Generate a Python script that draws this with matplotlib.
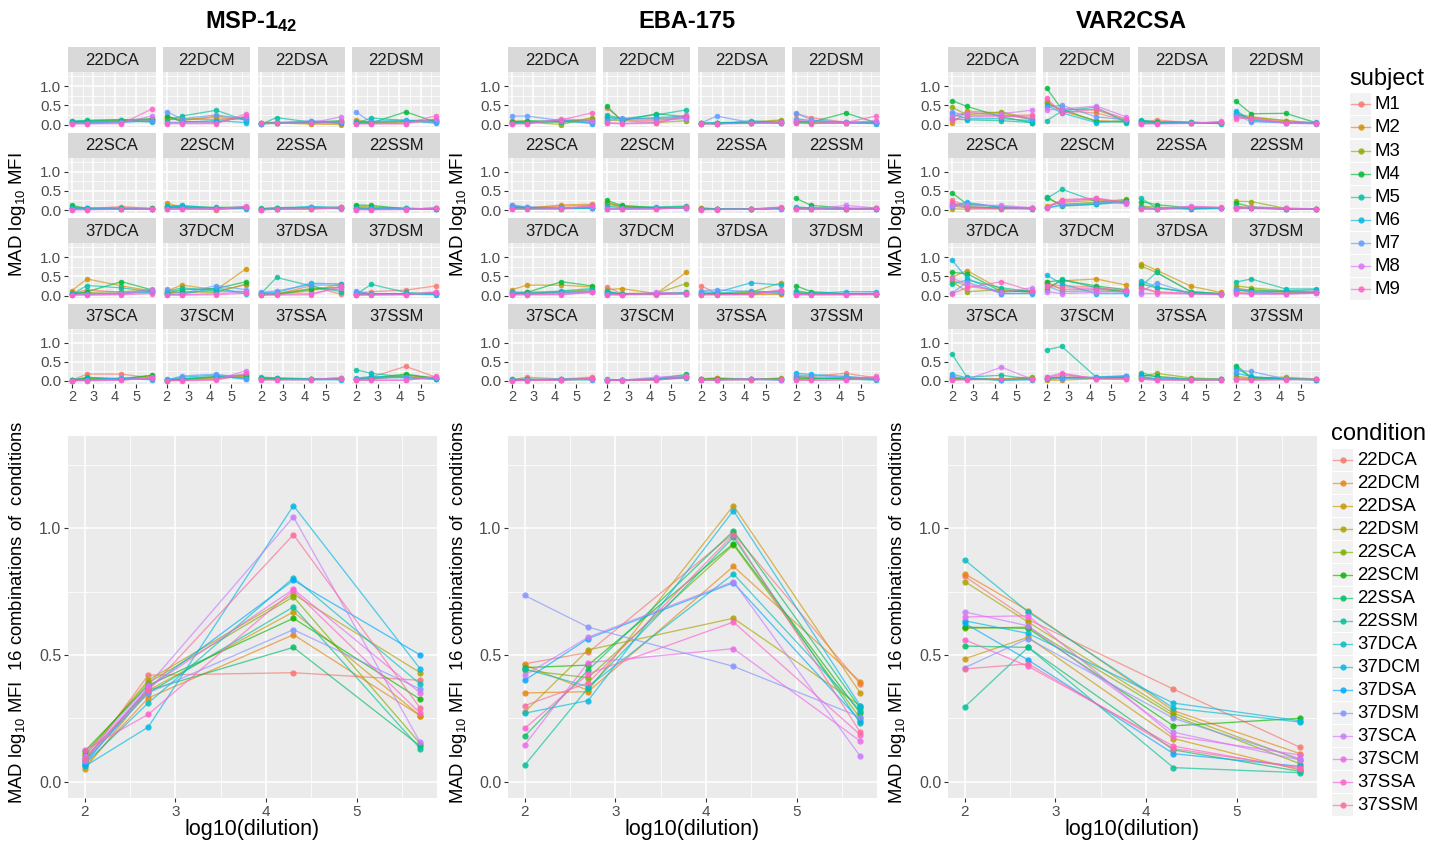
import numpy as np
import matplotlib
matplotlib.use("Agg")
import matplotlib.pyplot as plt
from matplotlib.patches import Rectangle
from matplotlib.lines import Line2D

plt.rcParams['font.family'] = ['Liberation Sans', 'DejaVu Sans']
plt.rcParams['mathtext.fontset'] = 'custom'
plt.rcParams['mathtext.rm'] = 'Liberation Sans'
plt.rcParams['mathtext.it'] = 'Liberation Sans:italic'
plt.rcParams['mathtext.bf'] = 'Liberation Sans:bold'
plt.rcParams['mathtext.default'] = 'regular'

# ---------------- data ----------------
DILUTIONS = [100, 500, 20000, 500000]
X = np.log10(DILUTIONS)
SUBJECTS = ["M1", "M2", "M3", "M4", "M5", "M6", "M7", "M8", "M9"]
CONDITIONS = ["22DCA", "22DCM", "22DSA", "22DSM", "22SCA", "22SCM", "22SSA", "22SSM",
              "37DCA", "37DCM", "37DSA", "37DSM", "37SCA", "37SCM", "37SSA", "37SSM"]
ANTIGENS = ["MSP-1$_{\\mathbf{42}}$", "EBA-175", "VAR2CSA"]

# facet data: per condition, 9 subjects x 4 dilutions
MSP_FACETS = [
    [[.05,.06,.08,.10],[.08,.07,.09,.14],[.06,.08,.10,.12],[.07,.10,.12,.15],[.09,.11,.13,.06],[.04,.05,.07,.08],[.03,.04,.06,.10],[.02,.02,.04,.22],[.02,.02,.02,.40]],
    [[.15,.12,.18,.12],[.18,.10,.22,.14],[.20,.15,.12,.18],[.22,.08,.06,.20],[.10,.22,.37,.10],[.05,.06,.10,.05],[.33,.15,.25,.14],[.05,.04,.05,.22],[.02,.02,.02,.28]],
    [[.05,.06,.04,.03],[.03,.04,.01,.00],[.02,.03,.05,.08],[.04,.05,.06,.10],[.01,.18,.06,.05],[.02,.03,.08,.04],[.02,.04,.10,.06],[.03,.03,.04,.20],[.03,.03,.03,.08]],
    [[.08,.05,.08,.12],[.13,.04,.06,.08],[.05,.05,.08,.10],[.04,.04,.33,.06],[.03,.17,.10,.12],[.06,.08,.12,.03],[.32,.06,.08,.06],[.02,.02,.02,.15],[.02,.02,.02,.23]],
    [[.03,.03,.09,.04],[.02,.02,.03,.02],[.08,.03,.04,.03],[.12,.04,.05,.04],[.06,.05,.04,.03],[.04,.05,.03,.02],[.02,.03,.02,.03],[.01,.01,.02,.02],[.01,.01,.02,.03]],
    [[.05,.04,.03,.06],[.19,.05,.01,.05],[.08,.06,.06,.07],[.07,.08,.07,.06],[.10,.12,.05,.08],[.09,.10,.04,.03],[.03,.04,.05,.05],[.02,.02,.03,.10],[.02,.02,.02,.08]],
    [[.02,.03,.04,.06],[.01,.02,.03,.04],[.02,.04,.05,.07],[.03,.05,.06,.05],[.04,.06,.08,.07],[.02,.03,.09,.05],[.01,.03,.07,.03],[.01,.02,.03,.08],[.01,.02,.02,.06]],
    [[.05,.03,.02,.04],[.03,.02,.02,.03],[.10,.08,.04,.03],[.13,.12,.03,.04],[.06,.05,.04,.02],[.04,.04,.05,.02],[.02,.03,.03,.04],[.01,.01,.02,.05],[.01,.01,.01,.06]],
    [[.05,.15,.08,.10],[.13,.43,.25,.12],[.06,.08,.10,.14],[.04,.10,.36,.15],[.03,.26,.20,.10],[.06,.05,.05,.08],[.02,.04,.06,.12],[.02,.02,.03,.17],[.01,.01,.02,.05]],
    [[.05,.08,.12,.28],[.12,.27,.15,.70],[.06,.10,.08,.30],[.07,.15,.18,.36],[.10,.20,.12,.10],[.03,.03,.20,.04],[.17,.05,.26,.15],[.02,.02,.05,.10],[.01,.01,.02,.06]],
    [[.03,.04,.25,.03],[.05,.03,.12,.30],[.04,.05,.18,.15],[.02,.03,.16,.22],[.06,.47,.25,.10],[.07,.08,.32,.30],[.08,.12,.28,.26],[.02,.03,.05,.20],[.01,.01,.02,.24]],
    [[.05,.10,.14,.25],[.03,.04,.05,.06],[.04,.05,.04,.07],[.02,.03,.05,.04],[.03,.29,.08,.03],[.08,.04,.03,.02],[.13,.03,.04,.05],[.02,.02,.02,.10],[.01,.01,.02,.08]],
    [[.02,.18,.18,.08],[.01,.05,.04,.12],[.02,.06,.05,.14],[.03,.08,.06,.15],[.02,.10,.05,.06],[.01,.03,.07,.03],[.01,.02,.08,.05],[.01,.01,.02,.10],[.01,.01,.02,.08]],
    [[.02,.03,.05,.15],[.01,.02,.08,.12],[.03,.04,.10,.10],[.02,.05,.12,.16],[.04,.06,.10,.08],[.03,.10,.15,.04],[.02,.13,.18,.06],[.01,.02,.04,.27],[.01,.01,.02,.20]],
    [[.06,.05,.04,.08],[.05,.06,.05,.07],[.07,.06,.04,.06],[.08,.07,.05,.05],[.10,.08,.06,.04],[.05,.04,.03,.03],[.04,.04,.05,.05],[.03,.03,.04,.09],[.03,.03,.03,.06]],
    [[.05,.10,.38,.10],[.03,.04,.14,.08],[.04,.06,.16,.06],[.06,.08,.18,.07],[.29,.20,.10,.05],[.07,.12,.08,.04],[.05,.06,.10,.08],[.02,.02,.02,.10],[.02,.02,.02,.12]],
]
EBA_FACETS = [
    [[.08,.06,.10,.12],[.10,.08,.06,.15],[.05,.06,.00,.18],[.06,.10,.08,.10],[.04,.05,.07,.06],[.03,.04,.12,.02],[.22,.22,.10,.05],[.02,.02,.15,.10],[.02,.02,.12,.30]],
    [[.43,.12,.10,.18],[.20,.15,.15,.20],[.12,.10,.05,.10],[.48,.10,.28,.20],[.25,.15,.25,.38],[.18,.14,.18,.22],[.10,.16,.14,.15],[.05,.03,.06,.18],[.03,.02,.03,.25]],
    [[.04,.03,.04,.05],[.03,.02,.05,.10],[.02,.03,.06,.12],[.03,.04,.05,.06],[.02,.01,.10,.05],[.03,.05,.06,.03],[.04,.22,.05,.04],[.02,.02,.03,.06],[.02,.02,.03,.04]],
    [[.28,.18,.06,.08],[.10,.05,.04,.06],[.05,.04,.03,.05],[.08,.06,.30,.05],[.15,.10,.06,.04],[.06,.08,.05,.02],[.30,.12,.06,.04],[.12,.08,.04,.10],[.03,.02,.05,.22]],
    [[.12,.06,.10,.12],[.05,.05,.13,.15],[.08,.06,.05,.08],[.06,.05,.04,.06],[.05,.04,.03,.05],[.10,.07,.04,.04],[.13,.08,.05,.06],[.02,.02,.03,.10],[.02,.02,.03,.12]],
    [[.15,.08,.05,.06],[.20,.10,.04,.05],[.18,.09,.06,.07],[.25,.12,.06,.08],[.10,.06,.08,.10],[.02,.03,.05,.06],[.05,.04,.04,.05],[.03,.02,.03,.06],[.02,.02,.02,.07]],
    [[.06,.03,.03,.05],[.04,.03,.02,.04],[.03,.02,.03,.06],[.03,.03,.02,.05],[.02,.03,.03,.04],[.02,.02,.02,.03],[.02,.02,.02,.03],[.01,.02,.02,.06],[.01,.01,.02,.08]],
    [[.04,.03,.02,.04],[.03,.02,.02,.03],[.05,.04,.03,.04],[.30,.12,.05,.04],[.08,.05,.03,.03],[.06,.06,.04,.02],[.05,.05,.03,.03],[.02,.02,.12,.05],[.02,.02,.03,.05]],
    [[.08,.10,.08,.10],[.15,.27,.27,.22],[.06,.05,.10,.15],[.05,.08,.36,.25],[.04,.06,.12,.18],[.10,.04,.08,.12],[.06,.05,.06,.08],[.02,.02,.03,.10],[.02,.02,.02,.08]],
    [[.22,.05,.04,.05],[.15,.18,.05,.60],[.08,.05,.06,.31],[.05,.04,.05,.08],[.10,.04,.04,.06],[.12,.03,.05,.04],[.03,.02,.06,.05],[.02,.02,.08,.06],[.02,.02,.02,.05]],
    [[.25,.05,.04,.05],[.05,.03,.02,.03],[.04,.04,.08,.33],[.03,.05,.06,.12],[.06,.06,.12,.08],[.10,.08,.33,.27],[.12,.15,.10,.06],[.02,.02,.03,.12],[.02,.02,.03,.15]],
    [[.05,.04,.03,.03],[.03,.03,.03,.02],[.08,.07,.04,.03],[.25,.10,.05,.04],[.12,.06,.04,.05],[.06,.05,.10,.10],[.04,.04,.05,.06],[.02,.02,.02,.03],[.02,.02,.02,.03]],
    [[.03,.10,.05,.10],[.02,.04,.03,.08],[.04,.03,.04,.05],[.03,.05,.03,.04],[.05,.04,.03,.04],[.02,.03,.05,.03],[.02,.02,.06,.04],[.01,.02,.02,.06],[.01,.01,.02,.07]],
    [[.03,.02,.03,.08],[.02,.02,.04,.10],[.03,.02,.05,.12],[.02,.03,.06,.17],[.04,.03,.04,.10],[.03,.02,.05,.08],[.02,.02,.06,.12],[.02,.02,.10,.14],[.01,.01,.02,.10]],
    [[.06,.07,.05,.06],[.05,.08,.04,.05],[.04,.05,.03,.08],[.05,.06,.04,.05],[.02,.04,.05,.04],[.03,.03,.04,.03],[.04,.03,.05,.02],[.03,.03,.06,.03],[.02,.02,.03,.04]],
    [[.10,.12,.20,.08],[.05,.06,.10,.06],[.04,.05,.08,.05],[.08,.07,.06,.04],[.12,.08,.05,.02],[.20,.17,.12,.05],[.15,.14,.10,.08],[.02,.02,.03,.06],[.02,.02,.03,.12]],
]
VAR_FACETS = [
    [[.18,.32,.22,.25],[.03,.35,.30,.12],[.45,.25,.33,.15],[.62,.47,.20,.05],[.15,.12,.10,.05],[.28,.15,.15,.10],[.33,.22,.25,.15],[.22,.30,.28,.37],[.12,.20,.20,.22]],
    [[.55,.35,.30,.10],[.60,.35,.10,.08],[.55,.40,.38,.12],[.94,.40,.08,.06],[.10,.35,.45,.05],[.50,.30,.05,.10],[.45,.50,.20,.12],[.38,.40,.48,.20],[.68,.30,.40,.15]],
    [[.05,.12,.04,.06],[.04,.05,.03,.03],[.08,.06,.05,.04],[.10,.07,.06,.03],[.12,.05,.06,.02],[.06,.04,.05,.03],[.03,.03,.04,.05],[.02,.02,.03,.08],[.02,.02,.03,.06]],
    [[.22,.15,.06,.03],[.25,.18,.10,.04],[.28,.20,.10,.03],[.60,.28,.29,.05],[.30,.12,.05,.02],[.36,.10,.04,.06],[.25,.07,.05,.04],[.20,.15,.03,.02],[.15,.18,.05,.03]],
    [[.25,.10,.04,.05],[.03,.02,.03,.04],[.10,.06,.05,.03],[.45,.15,.08,.05],[.15,.08,.05,.03],[.12,.20,.06,.04],[.08,.18,.08,.05],[.14,.12,.12,.06],[.20,.05,.03,.04]],
    [[.08,.25,.28,.20],[.10,.20,.25,.22],[.30,.15,.20,.28],[.35,.10,.15,.25],[.30,.54,.22,.18],[.05,.12,.15,.20],[.06,.14,.18,.22],[.08,.22,.30,.15],[.05,.27,.31,.20]],
    [[.05,.04,.08,.06],[.04,.03,.05,.05],[.10,.08,.02,.04],[.22,.14,.05,.06],[.30,.05,.04,.05],[.08,.03,.03,.04],[.04,.02,.06,.05],[.03,.03,.10,.06],[.02,.02,.08,.07]],
    [[.10,.05,.03,.02],[.08,.06,.02,.02],[.23,.22,.04,.03],[.18,.08,.03,.02],[.05,.04,.02,.02],[.06,.05,.04,.03],[.07,.06,.03,.02],[.04,.08,.05,.03],[.03,.04,.04,.02]],
    [[.40,.25,.10,.12],[.47,.65,.15,.08],[.36,.10,.15,.10],[.60,.57,.10,.12],[.30,.40,.20,.10],[.92,.45,.05,.05],[.06,.35,.05,.06],[.45,.30,.08,.20],[.05,.20,.36,.12]],
    [[.30,.25,.22,.10],[.20,.38,.43,.27],[.35,.15,.15,.12],[.35,.40,.25,.15],[.15,.42,.20,.08],[.53,.30,.05,.05],[.25,.10,.12,.08],[.10,.05,.08,.12],[.25,.20,.18,.15]],
    [[.20,.08,.05,.03],[.83,.66,.24,.08],[.76,.60,.10,.05],[.30,.20,.08,.04],[.25,.60,.10,.05],[.38,.22,.06,.04],[.10,.33,.05,.03],[.05,.05,.04,.02],[.20,.10,.05,.04]],
    [[.08,.06,.05,.08],[.20,.12,.08,.06],[.25,.20,.12,.10],[.12,.15,.10,.08],[.35,.43,.17,.17],[.15,.08,.12,.15],[.18,.10,.05,.07],[.05,.04,.03,.06],[.06,.04,.05,.08]],
    [[.08,.05,.06,.05],[.05,.04,.04,.08],[.10,.06,.05,.10],[.06,.05,.03,.05],[.70,.10,.15,.05],[.18,.08,.02,.03],[.12,.06,.03,.04],[.03,.04,.36,.05],[.02,.03,.05,.04]],
    [[.05,.15,.08,.06],[.02,.02,.06,.10],[.04,.08,.07,.08],[.06,.10,.08,.10],[.81,.90,.10,.12],[.10,.08,.10,.14],[.05,.06,.09,.12],[.08,.18,.06,.05],[.10,.21,.05,.04]],
    [[.10,.05,.03,.04],[.08,.04,.04,.03],[.12,.20,.08,.05],[.15,.12,.05,.04],[.22,.10,.04,.03],[.12,.05,.03,.04],[.08,.06,.04,.05],[.05,.03,.03,.03],[.04,.02,.02,.03]],
    [[.08,.06,.05,.04],[.05,.04,.06,.03],[.12,.08,.10,.05],[.40,.10,.06,.04],[.35,.08,.05,.03],[.20,.12,.04,.03],[.27,.25,.05,.04],[.05,.03,.04,.05],[.03,.02,.03,.04]],
]

# summary panels: MAD across the 16 condition combinations (per condition, 4 dilutions)
MSP_SUMMARY = [
    [0.08, 0.42, 0.43, 0.40], [0.06, 0.33, 0.58, 0.26], [0.05, 0.36, 0.67, 0.26], [0.10, 0.40, 0.74, 0.43],
    [0.11, 0.39, 0.73, 0.15], [0.12, 0.38, 0.645, 0.325], [0.09, 0.36, 0.53, 0.14], [0.08, 0.35, 0.69, 0.13],
    [0.07, 0.31, 0.805, 0.385], [0.06, 0.215, 1.09, 0.445], [0.07, 0.37, 0.795, 0.50], [0.08, 0.35, 0.60, 0.365],
    [0.10, 0.38, 1.045, 0.155], [0.09, 0.37, 0.76, 0.35], [0.125, 0.265, 0.755, 0.27], [0.09, 0.36, 0.975, 0.29],
]
EBA_SUMMARY = [
    [0.465, 0.51, 0.98, 0.385], [0.35, 0.355, 0.85, 0.395], [0.46, 0.36, 1.09, 0.35], [0.275, 0.52, 0.645, 0.30],
    [0.44, 0.41, 0.935, 0.25], [0.45, 0.46, 0.94, 0.27], [0.18, 0.44, 0.99, 0.29], [0.065, 0.37, 0.965, 0.23],
    [0.445, 0.375, 0.82, 0.28], [0.27, 0.32, 1.07, 0.30], [0.40, 0.565, 0.785, 0.24], [0.735, 0.61, 0.455, 0.255],
    [0.42, 0.57, 0.79, 0.10], [0.145, 0.47, 0.525, 0.16], [0.21, 0.425, 0.63, 0.185], [0.30, 0.39, 0.975, 0.195],
]
VAR_SUMMARY = [
    [0.81, 0.64, 0.365, 0.135], [0.82, 0.675, 0.28, 0.11], [0.485, 0.57, 0.17, 0.045], [0.79, 0.63, 0.27, 0.085],
    [0.605, 0.61, 0.26, 0.07], [0.61, 0.605, 0.22, 0.25], [0.535, 0.53, 0.125, 0.04], [0.295, 0.53, 0.055, 0.035],
    [0.875, 0.67, 0.29, 0.235], [0.635, 0.585, 0.31, 0.24], [0.625, 0.48, 0.11, 0.06], [0.45, 0.565, 0.25, 0.09],
    [0.67, 0.615, 0.195, 0.085], [0.65, 0.655, 0.18, 0.105], [0.56, 0.455, 0.14, 0.05], [0.445, 0.465, 0.13, 0.055],
]

FACETS = [MSP_FACETS, EBA_FACETS, VAR_FACETS]
SUMMARY = [MSP_SUMMARY, EBA_SUMMARY, VAR_SUMMARY]


# ---------------- ggplot2 default hue palette ----------------
def hcl_hex(h, c=100.0, l=65.0):
    Xn, Yn, Zn = 95.047, 100.0, 108.883
    den = Xn + 15 * Yn + 3 * Zn
    un, vn = 4 * Xn / den, 9 * Yn / den
    hr = np.deg2rad(h)
    u, v = c * np.cos(hr), c * np.sin(hr)
    Y = Yn * ((l + 16) / 116) ** 3 if l > 8 else Yn * l / 903.3
    up = u / (13 * l) + un
    vp = v / (13 * l) + vn
    Xc = 9.0 * Y * up / (4 * vp)
    Zc = -Xc / 3 - 5 * Y + 3 * Y / vp
    Xc, Y, Zc = Xc / 100, Y / 100, Zc / 100
    r = 3.240479 * Xc - 1.537150 * Y - 0.498535 * Zc
    g = -0.969256 * Xc + 1.875992 * Y + 0.041556 * Zc
    b = 0.055648 * Xc - 0.204043 * Y + 1.057311 * Zc
    out = []
    for t in (r, g, b):
        t = 12.92 * t if t <= 0.0031308 else 1.055 * t ** (1 / 2.4) - 0.055
        out.append(min(max(t, 0), 1))
    return tuple(out)


def hue_pal(n):
    return [hcl_hex(h) for h in np.linspace(15, 375 - 360 / n, n)]


COL9 = hue_pal(len(SUBJECTS))
COL16 = hue_pal(len(CONDITIONS))

# ---------------- figure ----------------
W, H = 1444, 842
fig = plt.figure(figsize=(W / 100, H / 100), dpi=100)
fig.patch.set_facecolor('white')


def add_ax(l, t, r, b):
    return fig.add_axes([l / W, 1 - b / H, (r - l) / W, (b - t) / H])


def ftext(x, y, s, **kw):
    return fig.text(x / W, 1 - y / H, s, **kw)


XLIM = (1.815, 5.884)
YLIM = (-0.065, 1.365)
PANEL_BG = '#EBEBEB'
TXT = '#4D4D4D'
TICK = '#333333'
LINE_ALPHA = 0.65
PT_ALPHA = 0.85


def style_panel(ax, show_x, show_y, xsize, ysize):
    ax.set_facecolor(PANEL_BG)
    for sp in ax.spines.values():
        sp.set_visible(False)
    ax.set_xlim(*XLIM)
    ax.set_ylim(*YLIM)
    ax.set_xticks([2, 3, 4, 5])
    ax.set_xticks([2.5, 3.5, 4.5, 5.5], minor=True)
    ax.set_yticks([0.0, 0.5, 1.0])
    ax.set_yticks([0.25, 0.75, 1.25], minor=True)
    ax.set_yticklabels(['0.0', '0.5', '1.0'])
    ax.set_xticklabels(['2', '3', '4', '5'])
    ax.grid(which='major', color='white', lw=1.1)
    ax.grid(which='minor', color='white', lw=0.55)
    ax.set_axisbelow(True)
    ax.tick_params(which='minor', length=0)
    ax.tick_params(which='major', direction='out', length=3.2, width=0.8, color=TICK,
                   labelcolor=TXT, pad=1.5)
    ax.tick_params(axis='x', labelsize=xsize, bottom=show_x, labelbottom=show_x)
    ax.tick_params(axis='y', labelsize=ysize, left=show_y, labelleft=show_y)


FW, FP = 87.5, 94.75     # facet width and pitch
RP = 85.5                # row pitch
for c in range(3):
    base = 68 + 440 * c
    facets = FACETS[c]
    for k, cond in enumerate(CONDITIONS):
        i, j = divmod(k, 4)
        l = base + j * FP
        r = l + FW
        st = 47 + RP * i
        sax = add_ax(l, st, r, st + 25)
        sax.set_facecolor('#D9D9D9')
        sax.set_xticks([]); sax.set_yticks([])
        for sp in sax.spines.values():
            sp.set_visible(False)
        sax.text(0.5, 0.47, cond, ha='center', va='center', fontsize=12, color='#1A1A1A',
                 transform=sax.transAxes)
        ax = add_ax(l, st + 25, r, st + 80)
        for s in range(len(SUBJECTS)):
            ax.plot(X, facets[k][s], color=COL9[s], lw=0.95, alpha=LINE_ALPHA)
        for s in range(len(SUBJECTS)):
            ax.plot(X, facets[k][s], 'o', ms=4.0, color=COL9[s], alpha=PT_ALPHA, mec='none')
        style_panel(ax, show_x=(i == 3), show_y=(j == 0), xsize=10.5, ysize=11)

    # summary panel
    bax = add_ax(base, 436, base + 369, 798)
    summ = SUMMARY[c]
    for k in range(len(CONDITIONS)):
        bax.plot(X, summ[k], color=COL16[k], lw=0.95, alpha=LINE_ALPHA)
    for k in range(len(CONDITIONS)):
        bax.plot(X, summ[k], 'o', ms=4.5, color=COL16[k], alpha=PT_ALPHA, mec='none')
    style_panel(bax, True, True, xsize=11, ysize=11.5)

    # texts
    ftext(base - 50, 215, "MAD log$_{10}$ MFI", rotation=90, ha='center', va='center',
          fontsize=13.5, color='black')
    ftext(base - 50, 612, "MAD log$_{10}$ MFI  16 combinations of  conditions", rotation=90,
          ha='center', va='center', fontsize=13.3, color='black')
    ftext(base + 184.5, 829, "log10(dilution)", ha='center', va='center', fontsize=15.5,
          color='black')

TITLE_X = [251, 687, 1131]
for c in range(3):
    ftext(TITLE_X[c], 22, ANTIGENS[c], ha='center', va='center', fontsize=17,
          fontweight='bold', color='black')

# ---------------- legends ----------------
lax = fig.add_axes([0, 0, 1, 1])
lax.set_xlim(0, W)
lax.set_ylim(H, 0)
lax.axis('off')
lax.patch.set_alpha(0)


def draw_legend(x0, first_y, pitch, labels, cols, tsize):
    for n, (lab, col) in enumerate(zip(labels, cols)):
        y = first_y + n * pitch
        lax.add_patch(Rectangle((x0, y - 11), 21, 22, facecolor='#F2F2F2', edgecolor='none'))
        lax.add_line(Line2D([x0 + 1, x0 + 20], [y, y], color=col, lw=0.95, alpha=LINE_ALPHA))
        lax.plot([x0 + 10.5], [y], 'o', ms=4.5, color=col, alpha=PT_ALPHA, mec='none')
        lax.text(x0 + 25, y + 0.5, lab, fontsize=tsize, ha='left', va='center', color='black')


lax.text(1349, 79, "subject", fontsize=17, ha='left', va='center', color='black')
draw_legend(1350, 104.3, 23.1, SUBJECTS, COL9, 13.4)
lax.text(1331, 434, "condition", fontsize=17, ha='left', va='center', color='black')
draw_legend(1332, 460, 23.0, CONDITIONS, COL16, 13.4)

fig.savefig("out.png", dpi=100)
